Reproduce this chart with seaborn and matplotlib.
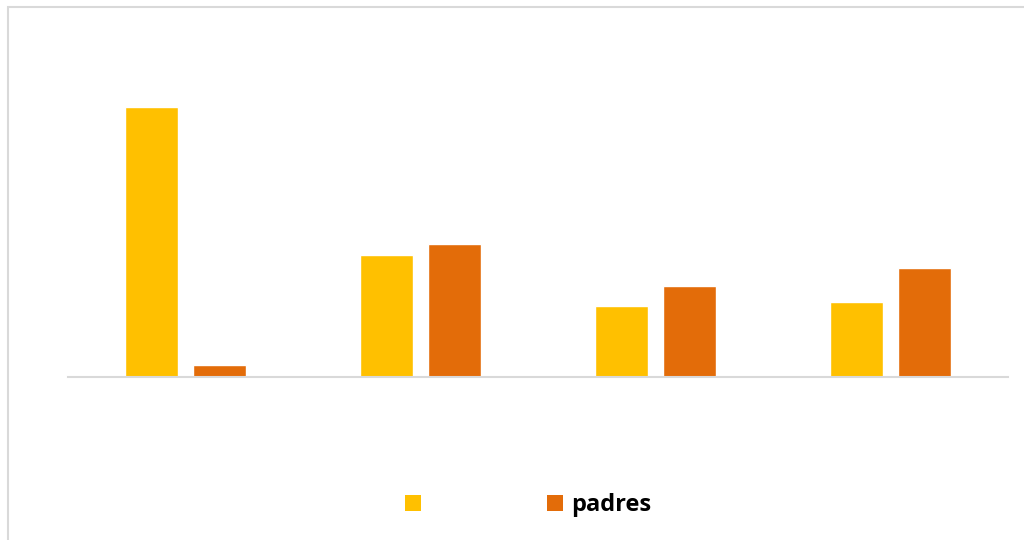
import matplotlib
matplotlib.use("Agg")
import matplotlib.pyplot as plt
from matplotlib.patches import Patch, Rectangle
import seaborn as sns
import pandas as pd

# values (arbitrary units, baseline = 0)
categories = ["A", "B", "C", "D"]
serie_1 = [270, 122, 71, 75]
padres = [12, 133, 91, 109]
series_names = ["", "padres"]
colors = ["#FFC000", "#E36C09"]

df = pd.DataFrame({
    "cat": categories * 2,
    "serie": [series_names[0]] * 4 + [series_names[1]] * 4,
    "valor": serie_1 + padres,
})

sns.set_theme(style="white")
plt.rcParams["font.family"] = ["Open Sans", "DejaVu Sans"]

fig = plt.figure(figsize=(10.24, 5.4), dpi=100)
ax = fig.add_axes([68 / 1024, 1 - 377 / 540, 940 / 1024, 300 / 540])

sns.barplot(data=df, x="cat", y="valor", hue="serie", palette=colors,
            width=0.58, gap=0.21, legend=False, ax=ax, saturation=1)

ax.set_xlim(-0.5, 3.5)
ax.set_ylim(0, 300)
ax.set_xlabel("")
ax.set_ylabel("")
ax.set_xticks([])
ax.set_yticks([])
for s in ["top", "right", "left"]:
    ax.spines[s].set_visible(False)
ax.spines["bottom"].set_color("#d9d9d9")
ax.spines["bottom"].set_linewidth(1.5)

# chart frame
fig.patches.append(Rectangle((8 / 1024, -0.1), 1.2, 1.1 - 7 / 540,
                             transform=fig.transFigure, fill=False,
                             edgecolor="#d9d9d9", linewidth=1.5))

handles = [Patch(facecolor=c, edgecolor="none") for c in colors]
leg = fig.legend(handles, series_names, loc="center", ncol=2,
                 bbox_to_anchor=(528 / 1024, 1 - 505 / 540), frameon=False,
                 prop={"size": 17, "weight": "bold"}, handlelength=0.68,
                 handleheight=0.68, handletextpad=0.34, columnspacing=5.0)
for t in leg.get_texts():
    t.set_color("black")

fig.savefig("out.png", dpi=100)
